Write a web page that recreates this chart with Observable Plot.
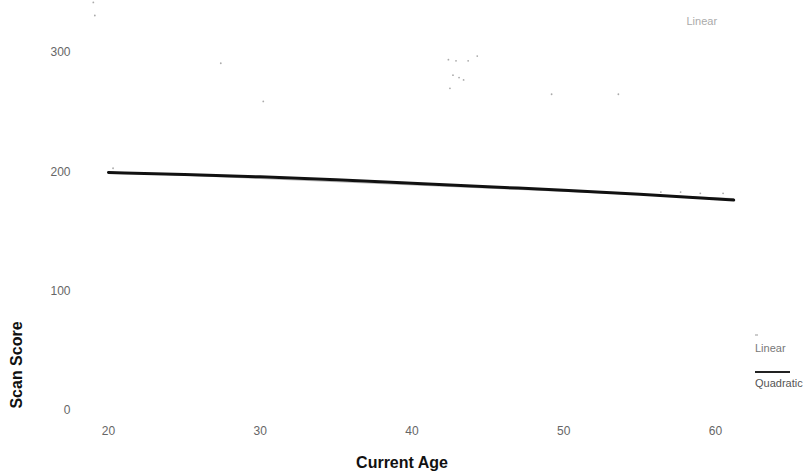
<!DOCTYPE html>
<html><head><meta charset="utf-8">
<script src="https://cdn.jsdelivr.net/npm/d3@7"></script>
<script src="https://cdn.jsdelivr.net/npm/@observablehq/plot@0.6"></script>
<style>
body{margin:0;background:#fff;font-family:"Liberation Sans",Arial,sans-serif}
#chart{position:relative;width:812px;height:476px}
</style>
</head><body><div id="chart"></div>
<script>
// Scatter observations (faint points)
const pointAge   = [19.0, 19.1, 27.4, 30.2, 42.4, 42.9, 43.7, 44.3, 42.7, 43.1, 43.4, 42.5, 49.2, 53.6, 20.3, 56.4, 57.7, 59.0, 60.5];
const pointScore = [342, 331, 291, 259, 294, 293, 293, 297, 281, 279, 277, 270, 265, 265, 203, 183, 183, 182, 182];
// Fitted curves
const fitAge       = [20, 25, 30, 35, 40, 45, 50, 55, 61.2];
const quadScore    = [199.4, 197.8, 195.8, 193.4, 190.5, 187.5, 184.6, 181.2, 176.3];
const linearAge    = [20, 61.2];
const linearScore  = [199.8, 177.6];
const xTicks = [20, 30, 40, 50, 60];
const yTicks = [0, 100, 200, 300];

const points = pointAge.map((a, i) => ({age: a, score: pointScore[i]}));
const quad = fitAge.map((a, i) => ({age: a, score: quadScore[i]}));
const lin = linearAge.map((a, i) => ({age: a, score: linearScore[i]}));

const plot = Plot.plot({
  width: 812,
  height: 476,
  marginLeft: 108,
  marginRight: 97,
  marginTop: 52,
  marginBottom: 66,
  style: {fontFamily: "Liberation Sans, Arial, sans-serif", background: "#fff"},
  x: {domain: [20, 60]},
  y: {domain: [0, 300]},
  marks: [
    Plot.axisX({ticks: xTicks, tickSize: 0, tickPadding: 16, fontSize: 12, fill: "#666", label: null}),
    Plot.axisY({ticks: yTicks, tickSize: 0, tickPadding: 38, fontSize: 12, fill: "#666", label: null}),
    Plot.dot(points, {x: "age", y: "score", r: 0.9, fill: "#aaa", stroke: "none"}),
    Plot.line(lin, {x: "age", y: "score", stroke: "#bbb", strokeWidth: 1}),
    Plot.line(quad, {x: "age", y: "score", stroke: "#111", strokeWidth: 3, curve: "monotone-x"}),
    Plot.text(["Current Age"], {frameAnchor: "bottom", dx: -10, dy: 57, fontSize: 16, fontWeight: "bold", fill: "#111"}),
    Plot.text(["Linear"], {frameAnchor: "top-right", dx: -29, dy: -35, fontSize: 11, fill: "#aaa", textAnchor: "start"})
  ]
});
document.getElementById("chart").appendChild(plot);

const svg = d3.select(plot);
// Y axis title
svg.append("text")
  .attr("transform", "translate(16,365) rotate(-90)")
  .attr("text-anchor", "middle").attr("dy", "0.35em")
  .attr("font-family", "Liberation Sans, Arial, sans-serif")
  .attr("font-size", 16).attr("font-weight", "bold").attr("fill", "#111")
  .text("Scan Score");

// Legend on the right
const lg = svg.append("g").attr("font-family", "Liberation Sans, Arial, sans-serif").attr("font-size", 11).attr("text-anchor", "start");
lg.append("line").attr("x1", 755).attr("x2", 758).attr("y1", 335).attr("y2", 335).attr("stroke", "#999").attr("stroke-width", 1);
lg.append("text").attr("x", 755).attr("y", 352).attr("fill", "#777").text("Linear");
lg.append("line").attr("x1", 755).attr("x2", 790).attr("y1", 372).attr("y2", 372).attr("stroke", "#222").attr("stroke-width", 2);
lg.append("text").attr("x", 755).attr("y", 387).attr("fill", "#555").text("Quadratic");
</script>
</body></html>
